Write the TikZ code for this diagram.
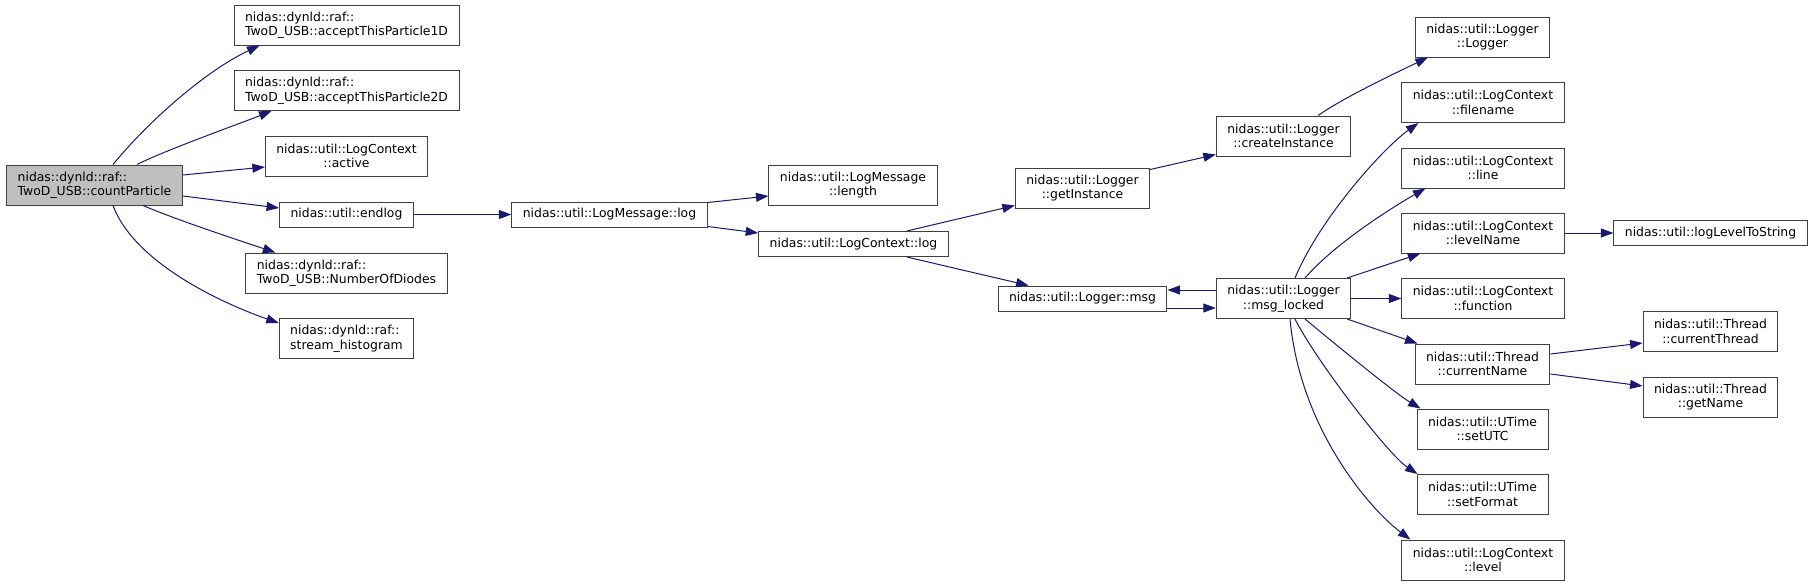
\documentclass[tikz,border=0pt]{standalone}
\usepackage{fontspec}
\setmainfont{DejaVu Sans}
\usetikzlibrary{arrows.meta}
\definecolor{edgeblue}{HTML}{191970}
\definecolor{boxline}{HTML}{404040}
\definecolor{rootfill}{HTML}{BFBFBF}

\begin{document}
\begin{tikzpicture}[
  x=1pt, y=-1pt,
  every node/.style={font=\fontsize{12.4}{14.5}\selectfont},
  fnbox/.style={rectangle, draw=boxline, line width=1pt, fill=white, inner xsep=11pt, inner ysep=3pt, minimum height=25pt, align=center},
  twoline/.style={minimum height=40pt},
  leftbox/.style={fnbox, twoline, align=left},
  rootbox/.style={leftbox, fill=rootfill},
  arr/.style={draw=edgeblue, line width=1pt, -{Triangle[length=12.5pt, width=9pt]}}
]
  \useasboundingbox (0,0) rectangle (1813,587);

  \node[rootbox] (cp) at (94.5,185) {nidas::dynld::raf::\\TwoD\_USB::countParticle};
  \node[leftbox] (a1d) at (346.5,25) {nidas::dynld::raf::\\TwoD\_USB::acceptThisParticle1D};
  \node[leftbox] (a2d) at (346.5,90.5) {nidas::dynld::raf::\\TwoD\_USB::acceptThisParticle2D};
  \node[fnbox, twoline] (act) at (346.5,156) {nidas::util::LogContext\\::active};
  \node[fnbox] (endlog) at (346.5,214.5) {nidas::util::endlog};
  \node[leftbox] (nod) at (346.5,273) {nidas::dynld::raf::\\TwoD\_USB::NumberOfDiodes};
  \node[leftbox] (sh) at (346.5,338.5) {nidas::dynld::raf::\\stream\_histogram};
  \node[fnbox] (lmlog) at (609.5,214.5) {nidas::util::LogMessage::log};
  \node[fnbox, twoline] (lmlen) at (853,185) {nidas::util::LogMessage\\::length};
  \node[fnbox] (lclog) at (853.5,244) {nidas::util::LogContext::log};
  \node[fnbox, twoline] (getinst) at (1082.5,188) {nidas::util::Logger\\::getInstance};
  \node[fnbox] (msg) at (1082.5,298.5) {nidas::util::Logger::msg};
  \node[fnbox, twoline] (createinst) at (1283.5,136) {nidas::util::Logger\\::createInstance};
  \node[fnbox, twoline] (msglocked) at (1283.5,298.5) {nidas::util::Logger\\::msg\_locked};
  \node[fnbox, twoline] (loggerctor) at (1482.5,37) {nidas::util::Logger\\::Logger};
  \node[fnbox, twoline] (filename) at (1483,102.5) {nidas::util::LogContext\\::filename};
  \node[fnbox, twoline] (lcline) at (1483,168) {nidas::util::LogContext\\::line};
  \node[fnbox, twoline] (levelname) at (1483,233) {nidas::util::LogContext\\::levelName};
  \node[fnbox, twoline] (lcfunction) at (1483,298.5) {nidas::util::LogContext\\::function};
  \node[fnbox, twoline] (curname) at (1482.5,364) {nidas::util::Thread\\::currentName};
  \node[fnbox, twoline] (setutc) at (1482.5,429) {nidas::util::UTime\\::setUTC};
  \node[fnbox, twoline] (setformat) at (1482.5,494.5) {nidas::util::UTime\\::setFormat};
  \node[fnbox, twoline] (level) at (1483,560) {nidas::util::LogContext\\::level};
  \node[fnbox] (lvl2str) at (1710.5,233) {nidas::util::logLevelToString};
  \node[fnbox, twoline] (curthread) at (1710.5,331.5) {nidas::util::Thread\\::currentThread};
  \node[fnbox, twoline] (getname) at (1710.5,397) {nidas::util::Thread\\::getName};

  \draw[arr] ([xshift=18.5pt]cp.north) .. controls +(37,-45) and +(-53,25) .. ([xshift=26pt]a1d.south west);
  \draw[arr] ([xshift=42.5pt]cp.north) .. controls +(30,-15) and +(-30,12) .. ([xshift=38pt]a2d.south west);
  \draw[arr] ([yshift=10pt]cp.east) -- ([yshift=-11pt]act.west);
  \draw[arr] ([yshift=-11pt]cp.east) -- ([yshift=6.5pt]endlog.west);
  \draw[arr] ([xshift=48.5pt]cp.south) .. controls +(35,15) and +(-30,-10) .. ([xshift=30pt]nod.north west);
  \draw[arr] ([xshift=18.5pt]cp.south) .. controls +(22,59) and +(-52,-18) .. ([yshift=-5pt]sh.north west);
  \draw[arr] (endlog) -- (lmlog);
  \draw[arr] ([yshift=-1pt]lmlog.north east) -- ([yshift=-11pt]lmlen.west);
  \draw[arr] ([yshift=1pt]lmlog.south east) -- ([yshift=-2pt]lclog.north west);
  \draw[arr] ([xshift=-42pt]lclog.north east) -- ([yshift=3pt]getinst.south west);
  \draw[arr] ([xshift=-42pt]lclog.south east) -- ([xshift=31pt]msg.north west);
  \draw[arr] ([yshift=-2pt]getinst.north east) -- ([yshift=2pt]createinst.south west);
  \draw[arr] ([xshift=-33pt]createinst.north east) .. controls +(25,-18) and +(-25,12) .. ([xshift=13pt]loggerctor.south west);
  \draw[arr] ([yshift=8.5pt]msglocked.west) -- ([yshift=8.5pt]msg.east);
  \draw[arr] ([yshift=-9.5pt]msg.east) -- ([yshift=-9.5pt]msglocked.west);
  \draw[arr] ([xshift=11.5pt]msglocked.north) .. controls +(25,-60) and +(-35,25) .. ([xshift=17pt]filename.south west);
  \draw[arr] ([xshift=21.5pt]msglocked.north) .. controls +(30,-35) and +(-30,17) .. ([xshift=24pt]lcline.south west);
  \draw[arr] ([xshift=-4pt]msglocked.north east) -- ([xshift=19pt]levelname.south west);
  \draw[arr] (msglocked) -- (lcfunction);
  \draw[arr] ([xshift=-4pt]msglocked.south east) -- ([xshift=3pt]curname.north west);
  \draw[arr] ([xshift=21.5pt]msglocked.south) .. controls +(30,25) and +(-25,-15) .. ([xshift=4pt]setutc.north west);
  \draw[arr] ([xshift=11.5pt]msglocked.south) .. controls +(20,40) and +(-30,-20) .. ([xshift=1pt]setformat.north west);
  \draw[arr] ([xshift=6.5pt]msglocked.south) .. controls +(10,110) and +(-40,-30) .. ([xshift=9pt]level.north west);
  \draw[arr] (levelname) -- (lvl2str);
  \draw[arr] ([yshift=10pt]curname.east) -- ([yshift=-11.5pt]curthread.west);
  \draw[arr] ([yshift=-10pt]curname.east) -- ([yshift=11pt]getname.west);
\end{tikzpicture}
\end{document}
